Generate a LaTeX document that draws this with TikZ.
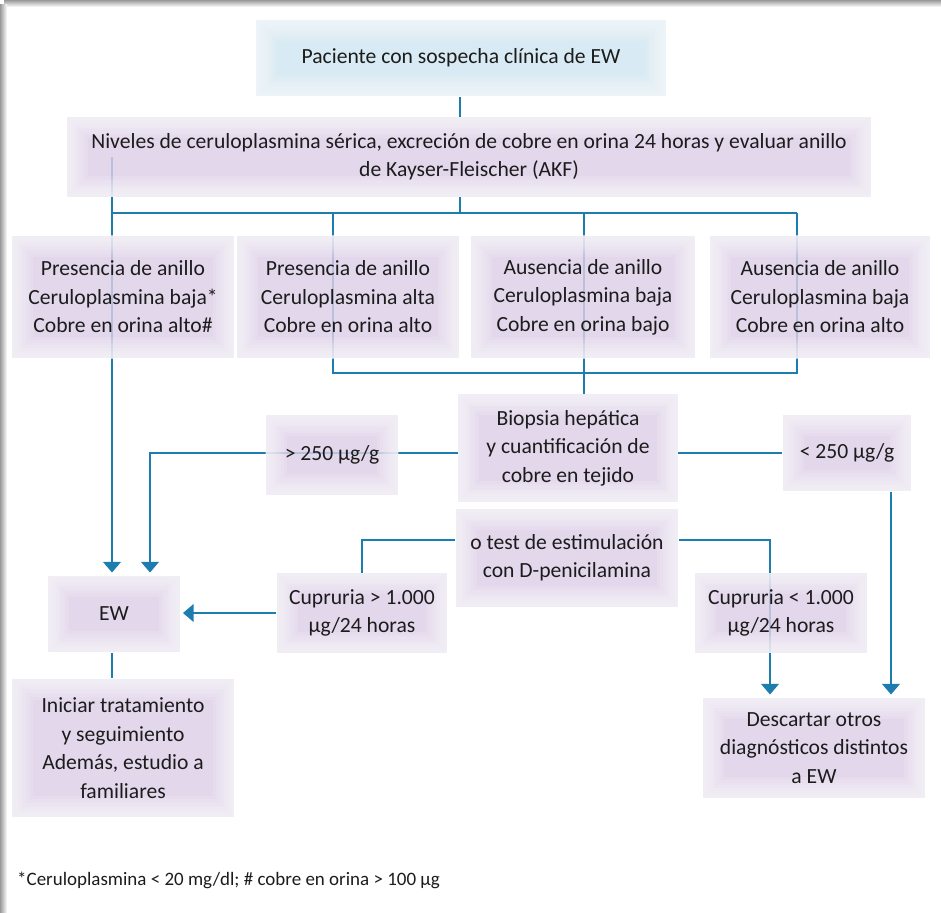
\documentclass[tikz,border=0pt]{standalone}
\usepackage{fontspec}
\setmainfont{Carlito}
\usetikzlibrary{arrows.meta,backgrounds}
\definecolor{linea}{RGB}{30,125,175}
\definecolor{lila}{RGB}{221,207,231}
\definecolor{celeste}{RGB}{208,229,240}
\definecolor{texto}{RGB}{28,28,28}
\tikzset{
  caja/.style={fill=lila,fill opacity=.82,text opacity=1,text=texto,inner sep=0pt,align=center,
    path picture={
      \foreach \w in {3,6,...,24}
        \draw[white,line width=\w pt,opacity=.11] (path picture bounding box.south west) rectangle (path picture bounding box.north east);}},
  flujo/.style={draw=linea,line width=0.9pt},
  flecha/.style={flujo,-{Triangle[width=10pt,length=6pt]},shorten >=1.5pt},
}
\begin{document}
\begin{tikzpicture}[x=0.02cm,y=-0.02cm,font=\fontsize{12.3}{16.2}\selectfont]
  \useasboundingbox (0,0) rectangle (941,913);
  \shade[top color=black!40,bottom color=white] (4,0) rectangle (941,7);
  \shade[left color=black!40,right color=white] (0,4) rectangle (7,913);

  \node[caja,fill=celeste,minimum width=8.2cm,minimum height=1.54cm] (sospecha) at (461,58) {Paciente con sospecha clínica de EW};
  \node[caja,minimum width=16.1cm,minimum height=1.6cm] (niveles) at (469,157) {Niveles de ceruloplasmina sérica, excreción de cobre en orina 24 horas y evaluar anillo\\de Kayser-Fleischer (AKF)};
  \node[caja,minimum width=4.46cm,minimum height=2.46cm] (pres1) at (123,297) {Presencia de anillo\\Ceruloplasmina baja*\\Cobre en orina alto\#};
  \node[caja,minimum width=4.46cm,minimum height=2.46cm] (pres2) at (348,297) {Presencia de anillo\\Ceruloplasmina alta\\Cobre en orina alto};
  \node[caja,minimum width=4.5cm,minimum height=2.46cm] (aus1) at (583,297) {Ausencia de anillo\\Ceruloplasmina baja\\Cobre en orina bajo};
  \node[caja,minimum width=4.4cm,minimum height=2.46cm] (aus2) at (820,297) {Ausencia de anillo\\Ceruloplasmina baja\\Cobre en orina alto};
  \node[caja,minimum width=4.4cm,minimum height=2.16cm] (biopsia) at (568,448) {Biopsia hepática\\y cuantificación de\\cobre en tejido};
  \node[caja,minimum width=2.66cm,minimum height=1.6cm] (mayor) at (332,455) {> 250 µg/g};
  \node[caja,minimum width=2.58cm,minimum height=1.54cm] (menor) at (847,453) {< 250 µg/g};
  \node[caja,minimum width=4.46cm,minimum height=1.96cm] (test) at (567,558) {o test de estimulación\\con D-penicilamina};
  \node[caja,minimum width=3.42cm,minimum height=1.6cm] (cmayor) at (362,613) {Cupruria > 1.000\\µg/24 horas};
  \node[caja,minimum width=3.46cm,minimum height=1.6cm] (cmenor) at (781,613) {Cupruria < 1.000\\µg/24 horas};
  \node[caja,minimum width=2.64cm,minimum height=1.54cm] (ew) at (114,614) {EW};
  \node[caja,minimum width=4.46cm,minimum height=2.78cm] (tratar) at (123,748) {Iniciar tratamiento\\y seguimiento\\Además, estudio a\\familiares};
  \node[caja,minimum width=4.44cm,minimum height=2.02cm] (descartar) at (814,748) {Descartar otros\\diagnósticos distintos\\a EW};
  \node[anchor=west,text=texto,font=\fontsize{10.8}{13}\selectfont] (nota) at (11,880) {*Ceruloplasmina < 20 mg/dl; \# cobre en orina > 100 µg};

  \coordinate (eje) at (460,213);
  \coordinate (c1) at (112,213);
  \coordinate (c2) at (333,213);
  \coordinate (c3) at (584,213);
  \coordinate (c4) at (797,213);
  \coordinate (union) at (584,373);
  \coordinate (c5) at (150,453);
  \coordinate (c6) at (891,453);
  \coordinate (c7) at (362,540);
  \coordinate (c8) at (770,540);

  \begin{scope}[on background layer]
    \draw[flujo] (sospecha.south -| eje) -- (niveles.north -| eje);
    \draw[flujo] (niveles.south -| eje) -- (eje);
    \draw[flujo] (niveles -| c1) -- (c1) -- (c4);
    \draw[flecha] (c1) -- (c1 |- ew.north);
    \draw[flujo] (c2) -- (c2 |- union) -- (c4 |- union) -- (c4);
    \draw[flujo] (c3) -- (c3 |- biopsia.north);
    \draw[flecha] (biopsia.west |- c5) -- (c5) -- (c5 |- ew.north);
    \draw[flujo] (biopsia.east |- c5) -- (menor.west |- c5);
    \draw[flecha] (menor.south -| c6) -- (c6 |- descartar.north);
    \draw[flujo] (test.west |- c7) -- (c7) -- (c7 |- cmayor.north);
    \draw[flecha] (test.east |- c8) -- (c8) -- (c8 |- descartar.north);
    \draw[flecha] (cmayor.west) -- (cmayor.west -| ew.east);
    \draw[flujo] (ew.south -| c1) -- (c1 |- tratar.north);
  \end{scope}
\end{tikzpicture}
\end{document}
